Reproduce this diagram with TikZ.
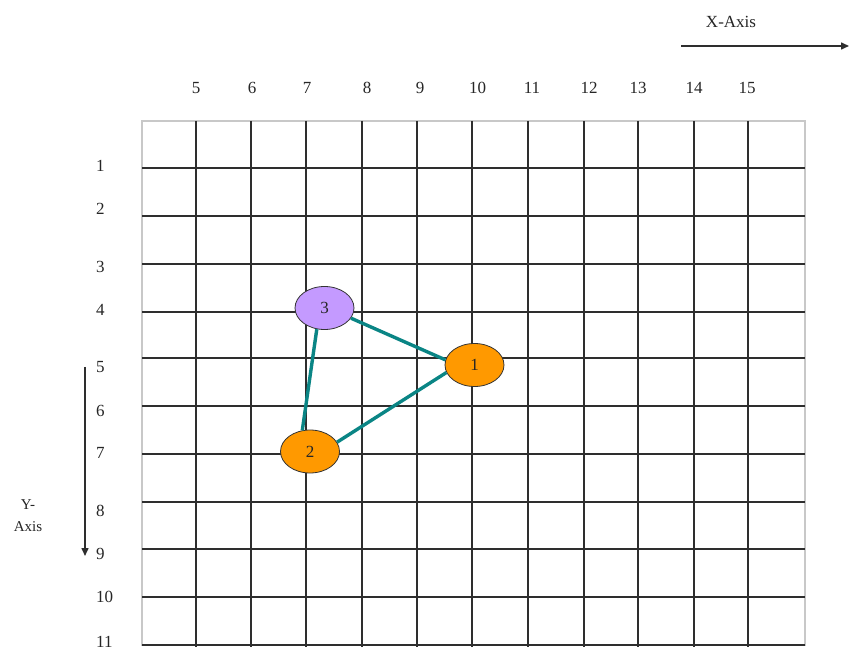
\documentclass[tikz,border=0pt]{standalone}
\usepackage{fontspec}
\setmainfont{Liberation Serif}
\usetikzlibrary{shapes.geometric,arrows.meta}
\definecolor{gridc}{HTML}{2E2E2E}
\definecolor{borderc}{HTML}{C8C8C8}
\definecolor{edgec}{HTML}{0A8585}
\definecolor{orangec}{HTML}{FF9900}
\definecolor{purplec}{HTML}{C49AFF}
\definecolor{txtc}{HTML}{262626}
\tikzset{
  gridline/.style={draw=gridc,line width=2pt},
  borderline/.style={draw=borderc,line width=1.5pt},
  lbl/.style={font=\fontsize{17}{19}\selectfont,text=txtc,inner sep=0pt},
  vnode/.style={ellipse,draw=black!80,line width=0.8pt,minimum width=59pt,minimum height=43pt,inner sep=0pt,font=\fontsize{17}{19}\selectfont,text=txtc},
  link/.style={draw=edgec,line width=3.4pt},
  axisarrow/.style={draw=gridc,line width=1.5pt,-{Triangle[length=8pt,width=7pt]}}
}
\begin{document}
\begin{tikzpicture}[x=1pt,y=-1pt]
\useasboundingbox (0,0) rectangle (849,652);
\fill[white] (0,0) rectangle (849,652);
% border
\draw[borderline] (142,121) rectangle (805,645);
% interior vertical lines
\foreach \x in {196,251,306,362,417,472,528,584,638,694,748}
  \draw[gridline] (\x,121) -- (\x,647);
% horizontal lines
\foreach \y in {168,216,264,312,358,406,454,502,549,597,645}
  \draw[gridline] (142,\y) -- (805,\y);
% x labels
\foreach \v/\x in {5/196,6/252,7/307,8/367,9/420,10/477.5,11/532,12/589,13/638,14/694,15/747}
  \node[lbl] (xl\v) at (\x,88) {\v};
% y labels
\foreach \v/\y in {1/166,2/209,3/267,4/310,5/367,6/411,7/453,8/511,9/554,10/597,11/642}
  \node[lbl,anchor=west] (yl\v) at (96,\y) {\v};
% axes
\coordinate (xa0) at (681,46);
\coordinate (xa1) at (849,46);
\draw[axisarrow] (xa0) -- (xa1);
\node[lbl] (xaxis) at (731,22) {X-Axis};
\coordinate (ya0) at (85,367);
\coordinate (ya1) at (85,556);
\draw[axisarrow] (ya0) -- (ya1);
\node[lbl,align=center,font=\fontsize{15}{22}\selectfont] (yaxis) at (28,516) {Y-\\Axis};
% nodes
\node[vnode,fill=purplec] (n3) at (324.5,308) {3};
\node[vnode,fill=orangec] (n1) at (474.5,365) {1};
\node[vnode,fill=orangec] (n2) at (310,451.5) {2};
% edges
\draw[link] (n3.-21) -- (n1.170);
\draw[link] (n1.195) -- (n2.19);
\draw[link] (n3.250) -- (n2.110);
\end{tikzpicture}
\end{document}
